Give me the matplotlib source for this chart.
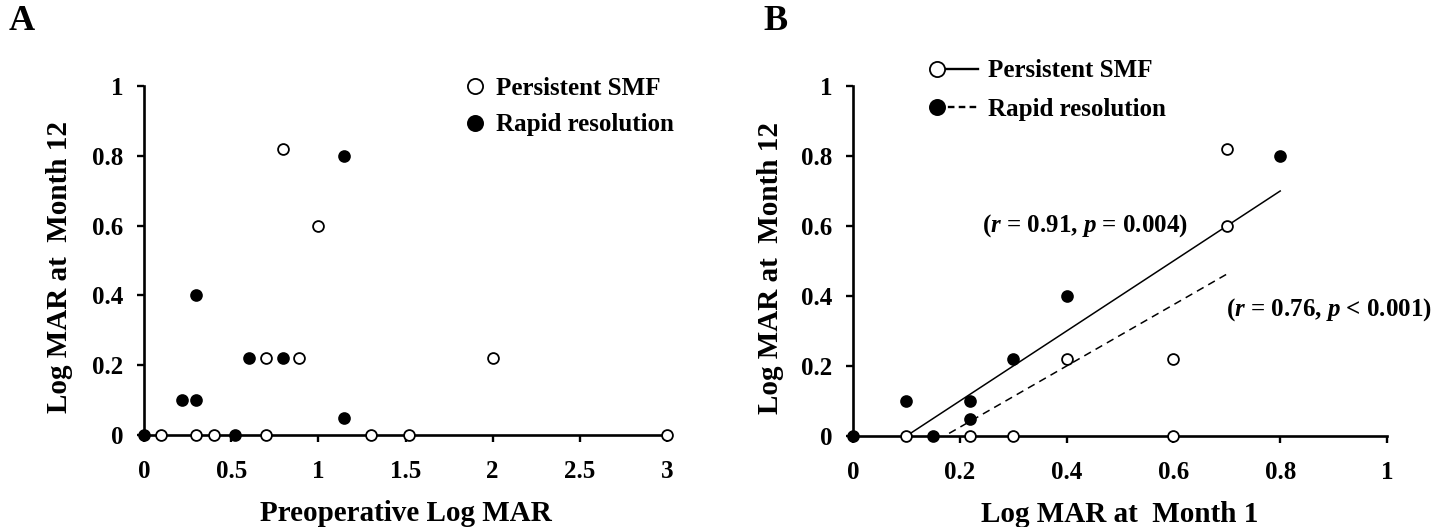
import matplotlib
matplotlib.use("Agg")
import matplotlib.pyplot as plt
import numpy as np
from matplotlib.lines import Line2D
from matplotlib.legend_handler import HandlerLine2D

plt.rcParams['font.family'] = ['Liberation Serif', 'DejaVu Serif']
plt.rcParams['font.weight'] = 'bold'
plt.rcParams['mathtext.fontset'] = 'custom'
plt.rcParams['mathtext.rm'] = 'Liberation Serif:bold'
plt.rcParams['mathtext.it'] = 'Liberation Serif:italic:bold'
plt.rcParams['mathtext.bf'] = 'Liberation Serif:bold'

# ---------------- data ----------------
# Panel A: preoperative LogMAR vs LogMAR at month 12
a_persist_x = [0.8, 1.0, 0.7, 0.89, 2.0, 0.1, 0.3, 0.4, 0.7, 1.3, 1.52, 3.0]
a_persist_y = [0.82, 0.6, 0.22, 0.22, 0.22, 0, 0, 0, 0, 0, 0, 0]
a_rapid_x = [1.15, 0.3, 0.6, 0.8, 0.22, 0.3, 1.15, 0, 0.52]
a_rapid_y = [0.8, 0.4, 0.22, 0.22, 0.1, 0.1, 0.05, 0, 0]

# Panel B: LogMAR at month 1 vs LogMAR at month 12
b_persist_x = [0.7, 0.7, 0.4, 0.6, 0.1, 0.22, 0.3, 0.6]
b_persist_y = [0.82, 0.6, 0.22, 0.22, 0, 0, 0, 0]
b_rapid_x = [0.8, 0.4, 0.3, 0.1, 0.22, 0.22, 0.15, 0]
b_rapid_y = [0.8, 0.4, 0.22, 0.1, 0.1, 0.05, 0, 0]

# regression lines (slope, intercept, x range)
fit_persist = (1.0, -0.1, (0.1, 0.8))
fit_rapid = (0.875, -0.15, (0.18, 0.7))

a_xticks = [0, 0.5, 1, 1.5, 2, 2.5, 3]
a_xticklabels = ['0', '0.5', '1', '1.5', '2', '2.5', '3']
b_xticks = [0, 0.2, 0.4, 0.6, 0.8, 1]
b_xticklabels = ['0', '0.2', '0.4', '0.6', '0.8', '1']
yticks = [0, 0.2, 0.4, 0.6, 0.8, 1]
yticklabels = ['0', '0.2', '0.4', '0.6', '0.8', '1']

labels = ['Persistent SMF', 'Rapid resolution']
stat_persist = r'($r$ = 0.91, $p$ = 0.004)'
stat_rapid = r'($r$ = 0.76, $p$ < 0.001)'

# ---------------- figure ----------------
W, H = 1447, 527
fig = plt.figure(figsize=(W / 100, H / 100), dpi=100)

def px_axes(l, r, b, t):
    return fig.add_axes([l / W, 1 - b / H, (r - l) / W, (b - t) / H])

axA = px_axes(144, 667, 435, 86)
axB = px_axes(853, 1387, 436, 86)

ms = 7.8
mew = 1.3

def style(ax, xt, xtl):
    ax.set_xlim(xt[0], xt[-1])
    ax.set_ylim(0, 1)
    for s in ['top', 'right']:
        ax.spines[s].set_visible(False)
    for s in ['left', 'bottom']:
        ax.spines[s].set_linewidth(1.9)
    ax.set_xticks(xt)
    ax.set_xticklabels(xtl)
    ax.set_yticks(yticks)
    ax.set_yticklabels(yticklabels)
    ax.tick_params(axis='both', direction='out', length=5, width=1.7,
                   labelsize=18)
    ax.tick_params(axis='x', pad=13)
    ax.tick_params(axis='y', pad=10)
    for lab in ax.get_xticklabels() + ax.get_yticklabels():
        lab.set_fontweight('bold')
    ax.set_ylabel('Log MAR at  Month 12', fontsize=21, fontweight='bold')

def scatter(ax, x, y, filled):
    ax.plot(x, y, ls='none', marker='o', ms=ms, mew=mew, mec='black',
            mfc='black' if filled else 'white', clip_on=False, zorder=5)

# Panel A
style(axA, a_xticks, a_xticklabels)
scatter(axA, a_persist_x, a_persist_y, False)
scatter(axA, a_rapid_x, a_rapid_y, True)
axA.set_xlabel('Preoperative Log MAR', fontsize=21, fontweight='bold')
axA.yaxis.set_label_coords(-0.135, 0.48)
axA.xaxis.set_label_coords(0.5, -0.185)
axA.xaxis.label.set_va('top')

hA = [Line2D([], [], ls='none', marker='o', ms=ms, mew=mew, mec='black', mfc='white'),
      Line2D([], [], ls='none', marker='o', ms=ms, mew=mew, mec='black', mfc='black')]
legA = fig.legend(hA, labels, loc='center left', bbox_to_anchor=(467 / W, 1 - 106.5 / H),
                  frameon=False, handlelength=0.6, handletextpad=0.58,
                  borderpad=0, borderaxespad=0, labelspacing=0.55, markerscale=1.4,
                  numpoints=1, prop={'weight': 'bold', 'size': 18})

# Panel B
style(axB, b_xticks, b_xticklabels)
for (m, c, (x0, x1)), ls in [(fit_persist, '-'), (fit_rapid, (0, (5, 3.5)))]:
    xs = np.array([x0, x1])
    axB.plot(xs, m * xs + c, color='black', lw=1.1, ls=ls, zorder=3)
scatter(axB, b_persist_x, b_persist_y, False)
scatter(axB, b_rapid_x, b_rapid_y, True)
axB.set_xlabel('Log MAR at  Month 1', fontsize=21, fontweight='bold')
axB.yaxis.set_label_coords(-0.13, 0.48)
axB.xaxis.set_label_coords(0.5, -0.185)
axB.xaxis.label.set_va('top')

axB.text(0.435, 0.60, stat_persist, fontsize=18, fontweight='bold', ha='center', va='center')
axB.text(0.892, 0.362, stat_rapid, fontsize=18, fontweight='bold', ha='center', va='center')


class LeftMarker(HandlerLine2D):
    def create_artists(self, legend, orig_handle, xdescent, ydescent, width,
                       height, fontsize, trans):
        arts = super().create_artists(legend, orig_handle, xdescent, ydescent,
                                      width, height, fontsize, trans)
        for a in arts:
            if isinstance(a, Line2D):
                a.set_markevery([0])
        return arts


hB = [Line2D([], [], ls='-', lw=1.7, color='black', marker='o', ms=ms, mew=mew, mec='black', mfc='white'),
      Line2D([], [], ls=(0, (2.8, 1.8)), lw=1.7, color='black', marker='o', ms=ms, mew=mew, mec='black', mfc='black')]
legB = fig.legend(hB, labels, loc='center left', bbox_to_anchor=(937 / W, 1 - 90 / H),
                  frameon=False, handlelength=1.64, handletextpad=0.4,
                  borderpad=0, borderaxespad=0, labelspacing=0.62, markerscale=1.4,
                  numpoints=1, prop={'weight': 'bold', 'size': 18},
                  handler_map={Line2D: LeftMarker()})

fig.text(22 / W, 1 - 21 / H, 'A', fontsize=26, fontweight='bold', ha='center', va='center')
fig.text(776 / W, 1 - 21 / H, 'B', fontsize=26, fontweight='bold', ha='center', va='center')

fig.savefig('out.png', dpi=100)
